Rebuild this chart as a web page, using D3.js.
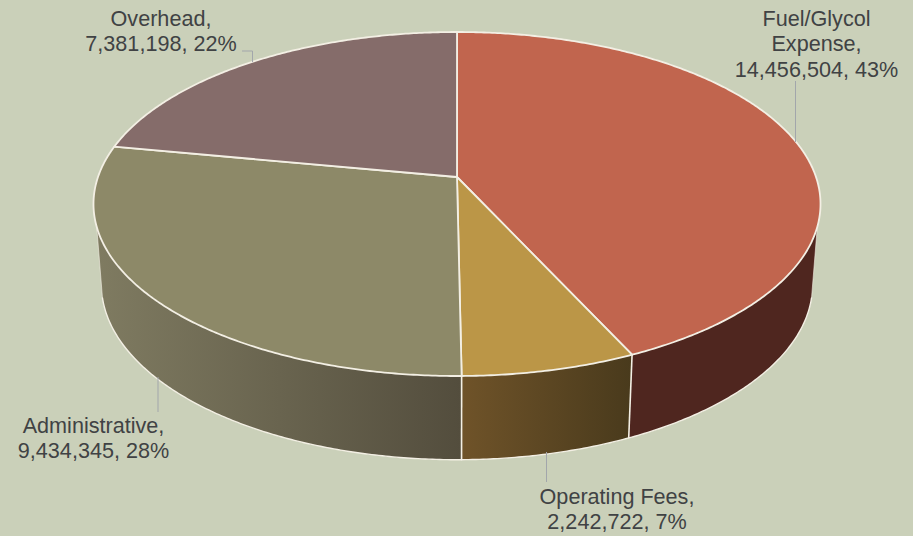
<!DOCTYPE html>
<html><head><meta charset="utf-8">
<script src="https://cdn.jsdelivr.net/npm/d3@7/dist/d3.min.js"></script>
<style>html,body{margin:0;padding:0;background:#cad0b9;overflow:hidden}svg{display:block}</style>
</head><body><svg id="c" width="913" height="536"></svg>
<script>
const categories = ["Fuel/Glycol Expense", "Operating Fees", "Administrative", "Overhead"];
const values = [14456504, 2242722, 9434345, 7381198];
const percents = [43, 7, 28, 22];
const labelBreaks = [["Fuel/Glycol", "Expense,"], ["Operating Fees,"], ["Administrative,"], ["Overhead,"]];
const faceColors = ["#c1654e", "#bb9647", "#8d8968", "#856c6a"];
const wallStops = [["#4f261f", "#4f261f"], ["#6f5329", "#493a1c"], ["#7f7b61", "#534d3d"], null];

const W = 913, H = 536, bg = "#cad0b9", edge = "#f3efe4", textColor = "#404244", leader = "#a2a6ab";
const cx = 457;
// perspective disc projections: sx/sy are the projected disc radii, k the foreshortening
const topDisc = {cy: 177, sx: 359, sy: 167.76, k: 0.157};
const botDisc = {cy: 256.5, sx: 351, sy: 170.7, k: 0.16};
const project = (d, a) => {
  const den = 1 + d.k * Math.cos(a);
  return [cx + d.sx * Math.sin(a) / den, d.cy - d.sy * Math.cos(a) / den];
};
const rad = Math.PI / 180;
const topMin = 106.5 * rad, topMax = 253.5 * rad;
const botMin = 103.5 * rad, botMax = 256.5 * rad;

const arcs = d3.pie().sort(null).value(d => d)(values);
const svg = d3.select("#c");
const defs = svg.append("defs");
svg.append("rect").attr("width", W).attr("height", H).attr("fill", bg);

const line = d3.line();
const sample = (d, a0, a1) => {
  const n = Math.max(2, Math.ceil(Math.abs(a1 - a0) / (0.5 * rad)));
  return d3.range(n + 1).map(i => project(d, a0 + (a1 - a0) * i / n));
};
const clamp = (s, lo, hi) => [Math.max(s.startAngle, lo), Math.min(s.endAngle, hi)];

// walls
arcs.forEach((s, i) => {
  if (!wallStops[i]) return;
  const [t0, t1] = clamp(s, topMin, topMax), [b0, b1] = clamp(s, botMin, botMax);
  const t = sample(topDisc, t0, t1), b = sample(botDisc, b0, b1);
  const xs = t.concat(b).map(p => p[0]);
  const gid = "w" + i;
  const g = defs.append("linearGradient").attr("id", gid).attr("gradientUnits", "userSpaceOnUse")
    .attr("x1", d3.min(xs)).attr("x2", d3.max(xs)).attr("y1", 0).attr("y2", 0);
  g.append("stop").attr("offset", 0).attr("stop-color", wallStops[i][0]);
  g.append("stop").attr("offset", 1).attr("stop-color", wallStops[i][1]);
  svg.append("path").attr("d", line(t.concat(b.slice().reverse())) + "Z").attr("fill", `url(#${gid})`);
});
// wall edges
arcs.forEach((s, i) => {
  if (!wallStops[i]) return;
  const [b0, b1] = clamp(s, botMin, botMax);
  svg.append("path").attr("d", line(sample(botDisc, b0, b1))).attr("fill", "none")
    .attr("stroke", edge).attr("stroke-width", 1.4).attr("stroke-linecap", "round");
  if (s.endAngle < topMax)
    svg.append("path").attr("d", line([project(topDisc, s.endAngle), project(botDisc, s.endAngle)]))
      .attr("fill", "none").attr("stroke", edge).attr("stroke-width", 1.6);
});
// side silhouettes
[[topMin, botMin], [topMax, botMax]].forEach(([a, b]) =>
  svg.append("path").attr("d", line([project(topDisc, a), project(botDisc, b)]))
    .attr("fill", "none").attr("stroke", edge).attr("stroke-width", 1).attr("stroke-opacity", 0.6));
// top faces
arcs.forEach((s, i) => {
  const rim = sample(topDisc, s.startAngle, s.endAngle);
  svg.append("path").attr("d", line([[cx, topDisc.cy], ...rim]) + "Z")
    .attr("fill", faceColors[i]).attr("stroke", edge).attr("stroke-width", 1.8)
    .attr("stroke-linejoin", "round");
});

// leaders
const leaderLines = [
  [[795.5, 81], [795.5, 142]],
  [[546.5, 452], [546.5, 482]],
  [[158, 377], [158, 412]],
  [[242, 51], [252.5, 51], [252.5, 62]]
];
leaderLines.forEach(l => svg.append("path").attr("d", line(l)).attr("fill", "none")
  .attr("stroke", leader).attr("stroke-width", 1));

// labels
const labelAnchors = [[816.5, 26], [617, 504], [93.5, 433], [161, 26]];
const fmt = d3.format(",");
arcs.forEach((s, i) => {
  const lines = [...labelBreaks[i], `${fmt(values[i])}, ${percents[i]}%`];
  const t = svg.append("text").attr("text-anchor", "middle")
    .attr("font-family", "'Liberation Sans', Arial, sans-serif")
    .attr("font-size", 21.6).attr("fill", textColor);
  lines.forEach((l, j) => t.append("tspan").attr("x", labelAnchors[i][0])
    .attr("y", labelAnchors[i][1] + j * 25.3).text(l));
});
</script></body></html>
